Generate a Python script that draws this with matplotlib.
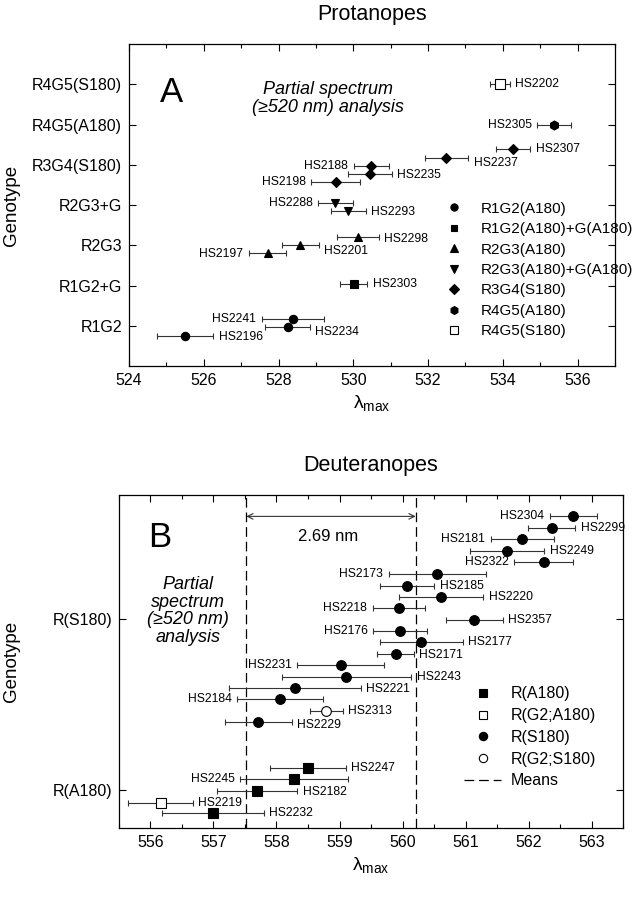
import matplotlib
matplotlib.use("Agg")
import matplotlib.pyplot as plt
from matplotlib.lines import Line2D
from matplotlib.ticker import MultipleLocator

plt.rcParams['font.family'] = ['Liberation Sans', 'DejaVu Sans']
plt.rcParams['mathtext.fontset'] = 'custom'
plt.rcParams['mathtext.rm'] = 'Liberation Sans'
plt.rcParams['lines.scale_dashes'] = False

# ---- panel A: protanopes ----
A_cats = ['R1G2', 'R1G2+G', 'R2G3', 'R2G3+G', 'R3G4(S180)', 'R4G5(A180)', 'R4G5(S180)']
A_legend = ['R1G2(A180)', 'R1G2(A180)+G(A180)', 'R2G3(A180)', 'R2G3(A180)+G(A180)',
            'R3G4(S180)', 'R4G5(A180)', 'R4G5(S180)']
A_ids = ['HS2202', 'HS2305', 'HS2307', 'HS2237', 'HS2188', 'HS2235', 'HS2198',
         'HS2288', 'HS2293', 'HS2298', 'HS2201', 'HS2197', 'HS2303',
         'HS2241', 'HS2234', 'HS2196']
A_group = [6, 5, 4, 4, 4, 4, 4, 3, 3, 2, 2, 2, 1, 0, 0, 0]
A_lam = [533.92, 535.37, 534.28, 532.49, 530.48, 530.44, 529.53,
         529.52, 529.86, 530.12, 528.58, 527.71, 530.01,
         528.38, 528.24, 525.50]
A_err = [0.27, 0.45, 0.45, 0.58, 0.47, 0.59, 0.66,
         0.46, 0.47, 0.56, 0.49, 0.50, 0.36,
         0.83, 0.60, 0.76]
# vertical spread of the samples inside one genotype row
A_off = [0.0, 0.0, 0.39, 0.18, -0.03, -0.23, -0.42,
         0.06, -0.15, 0.20, 0.0, -0.19, 0.04,
         0.18, -0.04, -0.25]
A_side = ['r', 'l', 'r', 'r', 'l', 'r', 'l', 'l', 'r', 'r', 'r', 'l', 'r', 'l', 'r', 'r']
A_dy = [0, 0, 0, -4, 0, -1, 0, 0, -1, -1, -4, -1, 0, 0, -3, -1]

# ---- panel B: deuteranopes ----
B_cats = ['R(A180)', 'R(S180)']
B_legend = ['R(A180)', 'R(G2;A180)', 'R(S180)', 'R(G2;S180)']
B_ids = ['HS2304', 'HS2299', 'HS2181', 'HS2249', 'HS2322', 'HS2173', 'HS2185',
         'HS2220', 'HS2218', 'HS2357', 'HS2176', 'HS2177', 'HS2171', 'HS2231',
         'HS2243', 'HS2221', 'HS2184', 'HS2313', 'HS2229',
         'HS2247', 'HS2245', 'HS2182', 'HS2219', 'HS2232']
B_group = [2] * 17 + [3, 2, 0, 0, 0, 1, 0]
B_lam = [562.71, 562.37, 561.90, 561.66, 562.24, 560.55, 560.07,
         560.61, 559.94, 561.14, 559.96, 560.30, 559.89, 559.02,
         559.11, 558.29, 558.06, 558.79, 557.71,
         558.50, 558.28, 557.69, 556.16, 556.99]
B_err = [0.375, 0.375, 0.50, 0.585, 0.47, 0.77, 0.43,
         0.67, 0.415, 0.45, 0.425, 0.655, 0.29, 0.69,
         1.03, 1.05, 0.68, 0.26, 0.53,
         0.60, 0.855, 0.635, 0.51, 0.81]
B_off = [0.604, 0.534, 0.466, 0.400, 0.333, 0.263, 0.195,
         0.130, 0.062, -0.006, -0.070, -0.136, -0.205, -0.269,
         -0.337, -0.401, -0.470, -0.536, -0.602,
         0.131, 0.062, -0.006, -0.074, -0.136]
B_side = ['l', 'r', 'l', 'r', 'l', 'l', 'r', 'r', 'l', 'r', 'l', 'r', 'r', 'l',
          'r', 'r', 'l', 'r', 'r', 'r', 'l', 'r', 'r', 'r']
B_dy = [0, 0, 0, 0, 0, 0, 0, 0, 0, 0, 0, 0, -1, 0, 0, -1, 0, 0, -2, 0, 0, -1, 0, 0]
B_means = [557.52, 560.21]

A_mk = [('o', True), ('s', True), ('^', True), ('v', True), ('D', True), ('h', True), ('s', False)]
A_ms = [6, 5.5, 6, 6, 5.5, 6.5, 6.5]
B_mk = [('s', True), ('s', False), ('o', True), ('o', False)]


def style_axes(ax):
    ax.tick_params(direction='in', top=True, right=True, length=5, width=0.8,
                   labelsize=11.5, pad=5)
    ax.tick_params(which='minor', direction='in', top=True, right=True, length=3, width=0.8)
    for s in ax.spines.values():
        s.set_linewidth(0.9)


def draw_points(ax, lam, err, ybase, off, group, marks, sizes, ids, side, dy):
    for i in range(len(lam)):
        m, filled = marks[group[i]]
        y = ybase[i] + off[i]
        ax.errorbar(lam[i], y, xerr=err[i], fmt='none', ecolor='#333333',
                    elinewidth=0.8, capsize=2.3, capthick=0.8, zorder=2)
        ax.plot(lam[i], y, marker=m, ms=sizes[group[i]], mfc='black' if filled else 'white',
                mec='black', mew=0.8, ls='none', zorder=3)
        if side[i] == 'r':
            ax.annotate(ids[i], (lam[i] + err[i], y), xytext=(4, dy[i]),
                        textcoords='offset points', ha='left', va='center', fontsize=8.7)
        else:
            ax.annotate(ids[i], (lam[i] - err[i], y), xytext=(-4, dy[i]),
                        textcoords='offset points', ha='right', va='center', fontsize=8.7)


fig = plt.figure(figsize=(6.39, 9.0), dpi=100)

# panel A
axA = fig.add_axes([0.2019, 0.5933, 0.7605, 0.3578])
style_axes(axA)
draw_points(axA, A_lam, A_err, [g + 1 for g in A_group], A_off, A_group,
            A_mk, A_ms, A_ids, A_side, A_dy)
axA.set_xlim(524, 537)
axA.set_ylim(0.0, 8.0)
axA.xaxis.set_major_locator(MultipleLocator(2))
axA.xaxis.set_minor_locator(MultipleLocator(1))
axA.set_yticks(range(1, len(A_cats) + 1))
axA.set_yticklabels(A_cats)
axA.set_title('Protanopes', fontsize=15.5, pad=17)
axA.set_xlabel('λ$_{\\mathrm{max}}$', fontsize=14)
axA.set_ylabel('Genotype', fontsize=13.5)
axA.yaxis.set_label_coords(-0.224, 0.5)
axA.text(0.088, 0.848, 'A', transform=axA.transAxes, fontsize=25, ha='center', va='center')
axA.text(0.409, 0.83, 'Partial spectrum\n(≥520 nm) analysis', transform=axA.transAxes,
         fontsize=13, style='italic', ha='center', va='center', linespacing=1.05)
hA = [Line2D([], [], marker=m, ls='none', ms=A_ms[i] - 0.8, mfc='black' if f else 'white',
             mec='black', mew=0.8) for i, (m, f) in enumerate(A_mk)]
axA.legend(hA, A_legend, loc='upper left', bbox_to_anchor=(0.654, 0.51), frameon=False,
           fontsize=11, handlelength=1.0, handletextpad=1.2, labelspacing=0.42,
           borderpad=0, borderaxespad=0)

# panel B
axB = fig.add_axes([0.1862, 0.08, 0.7888, 0.37])
style_axes(axB)
draw_points(axB, B_lam, B_err, [0 if g < 2 else 1 for g in B_group], B_off, B_group,
            B_mk, [6.5, 6.5, 7, 7], B_ids, B_side, B_dy)
for mu in B_means:
    axB.axvline(mu, color='black', lw=0.9, dashes=(7, 3.5), zorder=1)
axB.annotate('', xy=(B_means[0], 1.6), xytext=(B_means[1], 1.6),
             arrowprops=dict(arrowstyle='<->', lw=0.8, color='#333333',
                             shrinkA=0, shrinkB=0))
axB.text(sum(B_means) / 2 - 0.05, 1.48, '%.2f nm' % (B_means[1] - B_means[0]),
         fontsize=12, ha='center', va='center')
axB.set_xlim(555.5, 563.5)
axB.set_ylim(-0.222, 1.725)
axB.xaxis.set_major_locator(MultipleLocator(1))
axB.xaxis.set_minor_locator(MultipleLocator(0.5))
axB.set_yticks(range(len(B_cats)))
axB.set_yticklabels(B_cats)
axB.set_title('Deuteranopes', fontsize=15.5, pad=17)
axB.set_xlabel('λ$_{\\mathrm{max}}$', fontsize=14)
axB.set_ylabel('Genotype', fontsize=13.5)
axB.yaxis.set_label_coords(-0.196, 0.5)
axB.text(0.081, 0.871, 'B', transform=axB.transAxes, fontsize=25, ha='center', va='center')
axB.text(0.137, 0.652, 'Partial\nspectrum\n(≥520 nm)\nanalysis', transform=axB.transAxes,
         fontsize=13, style='italic', ha='center', va='center', linespacing=1.05)
hB = [Line2D([], [], marker=m, ls='none', ms=6, mfc='black' if f else 'white',
             mec='black', mew=0.8) for m, f in B_mk]
hB.append(Line2D([], [], color='black', lw=0.9, dashes=(7, 3.5)))
axB.legend(hB, B_legend + ['Means'], loc='upper left', bbox_to_anchor=(0.685, 0.425),
           frameon=False, fontsize=11.5, handlelength=2.3, handletextpad=0.6,
           labelspacing=0.42, borderpad=0, borderaxespad=0)

fig.savefig('out.png', dpi=100)
